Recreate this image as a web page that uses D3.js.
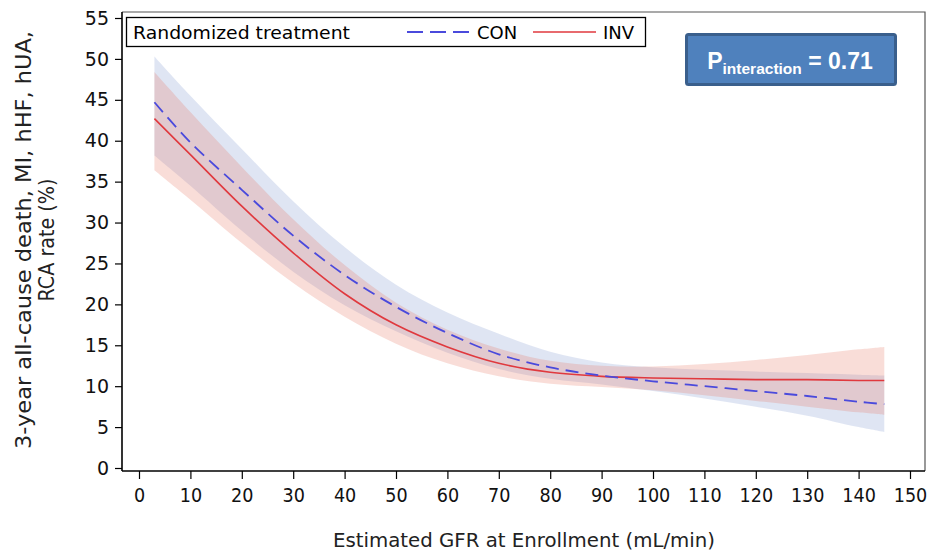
<!DOCTYPE html>
<html>
<head>
<meta charset="utf-8">
<script src="https://cdn.jsdelivr.net/npm/d3@7"></script>
<style>
  html, body { margin: 0; padding: 0; background: #ffffff; }
  svg { display: block; }
</style>
</head>
<body>
<svg id="chart" width="930" height="554"></svg>
<script>
// ---- data ----
const gfr      = [3, 10, 20, 30, 40, 50, 60, 70, 80, 90, 100, 110, 120, 130, 140, 145];
const conMean  = [44.7, 39.8, 34.0, 28.4, 23.6, 19.7, 16.5, 13.9, 12.3, 11.3, 10.6, 10.0, 9.4, 8.8, 8.1, 7.8];
const conUpper = [50.3, 45.5, 39.0, 32.6, 27.0, 22.4, 19.0, 16.4, 14.2, 12.9, 12.3, 12.0, 11.8, 11.6, 11.4, 11.3];
const conLower = [38.2, 34.5, 29.0, 24.0, 19.9, 16.7, 14.1, 12.1, 10.9, 10.2, 9.4, 8.5, 7.5, 6.4, 5.0, 4.4];
const invMean  = [42.7, 38.3, 32.0, 26.3, 21.3, 17.5, 14.8, 12.8, 11.7, 11.2, 11.0, 10.9, 10.8, 10.8, 10.7, 10.7];
const invUpper = [48.4, 43.5, 36.8, 30.4, 24.8, 20.2, 16.9, 14.6, 13.1, 12.5, 12.4, 12.7, 13.2, 13.8, 14.5, 14.8];
const invLower = [36.4, 32.8, 27.5, 22.6, 18.5, 15.2, 12.8, 11.2, 10.3, 9.9, 9.5, 8.9, 8.2, 7.5, 6.8, 6.5];
const xTicks   = d3.range(0, 151, 10);
const yTicks   = d3.range(0, 56, 5);
const seriesNames = ["CON", "INV"];
const legendTitle = "Randomized treatment";
const xTitle = "Estimated GFR at Enrollment (mL/min)";
const yTitleLines = ["3-year all-cause death, MI, hHF, hUA,", "RCA rate (%)"];
const pLabel = { main: "P", sub: "interaction", rest: " = 0.71" };

// ---- layout ----
const svg = d3.select("#chart");
const baseFont = "DejaVu Sans, sans-serif";
const frame = { left: 122, right: 925, top: 12, bottom: 471 };
const x = d3.scaleLinear().domain([0, 150]).range([139, 910]);
const y = d3.scaleLinear().domain([0, 55]).range([468, 18]);

const conColor = "#4a4adc";
const invColor = "#e0393e";

const pts = (arr) => gfr.map((g, i) => ({ x: g, v: arr[i] }));
const band = (lo, hi) => gfr.map((g, i) => ({ x: g, lo: lo[i], hi: hi[i] }));

const curve = d3.curveCatmullRom.alpha(0.5);
const area = d3.area().curve(curve)
  .x(d => x(d.x)).y0(d => y(d.lo)).y1(d => y(d.hi));
const line = d3.line().curve(curve)
  .x(d => x(d.x)).y(d => y(d.v));

// bands
svg.append("path").datum(band(conLower, conUpper))
  .attr("d", area).attr("fill", "rgb(110,135,200)").attr("fill-opacity", 0.22);
svg.append("path").datum(band(invLower, invUpper))
  .attr("d", area).attr("fill", "rgb(230,120,100)").attr("fill-opacity", 0.25);

// lines
svg.append("path").datum(pts(invMean)).attr("d", line)
  .attr("fill", "none").attr("stroke", invColor).attr("stroke-width", 1.6);
svg.append("path").datum(pts(conMean)).attr("d", line)
  .attr("fill", "none").attr("stroke", conColor).attr("stroke-width", 1.8)
  .attr("stroke-dasharray", "13,7");

// frame (top/right)
svg.append("path")
  .attr("d", `M${frame.left},${frame.top}H${frame.right}V${frame.bottom}`)
  .attr("fill", "none").attr("stroke", "#555").attr("stroke-width", 1.2);

// axes
const xAxis = svg.append("g").attr("transform", `translate(0,${frame.bottom})`)
  .call(d3.axisBottom(x).tickValues(xTicks).tickSize(8).tickSizeOuter(0).tickPadding(10));
xAxis.select(".domain").attr("d", `M${frame.left},0H${frame.right}`).attr("stroke", "#000").attr("stroke-width", 1.6);
xAxis.selectAll(".tick line").attr("stroke", "#000").attr("stroke-width", 1.2);
xAxis.selectAll(".tick text").style("font-size", "19px").style("font-family", baseFont).attr("fill", "#111")
  .each(function(d) {
    const n = String(d).length;
    d3.select(this).attr("textLength", n * 11.2).attr("lengthAdjust", "spacingAndGlyphs");
  });

const yAxis = svg.append("g").attr("transform", `translate(${frame.left},0)`)
  .call(d3.axisLeft(y).tickValues(yTicks).tickSize(7).tickSizeOuter(0).tickPadding(6));
yAxis.select(".domain").attr("d", `M0,${frame.top}V${frame.bottom}`).attr("stroke", "#000").attr("stroke-width", 1.6);
yAxis.selectAll(".tick line").attr("stroke", "#000").attr("stroke-width", 1.2);
yAxis.selectAll(".tick text").style("font-size", "19px").style("font-family", baseFont).attr("fill", "#111");

// axis titles
svg.append("text").attr("x", 524).attr("y", 547).attr("text-anchor", "middle")
  .style("font-size", "19.5px").style("font-family", baseFont)
  .attr("textLength", 382).attr("lengthAdjust", "spacingAndGlyphs")
  .attr("fill", "#222").text(xTitle);

const yTitleLen = [418, 123];
yTitleLines.forEach((t, i) => {
  svg.append("text")
    .attr("transform", `translate(${31 + i * 23},${240}) rotate(-90)`)
    .attr("text-anchor", "middle").style("font-size", "20.5px").style("font-family", baseFont)
    .attr("textLength", yTitleLen[i]).attr("lengthAdjust", "spacingAndGlyphs")
    .attr("fill", "#222").text(t);
});

// legend
const lg = svg.append("g").style("font-family", baseFont).style("font-size", "18px");
lg.append("rect").attr("x", 126.5).attr("y", 17.5).attr("width", 519).attr("height", 29)
  .attr("fill", "#fff").attr("stroke", "#000").attr("stroke-width", 1.3);
lg.append("text").attr("x", 133).attr("y", 38.5)
  .attr("textLength", 217).attr("lengthAdjust", "spacingAndGlyphs").text(legendTitle);
lg.append("line").attr("x1", 407).attr("x2", 469).attr("y1", 32).attr("y2", 32)
  .attr("stroke", conColor).attr("stroke-width", 1.8).attr("stroke-dasharray", "16,7");
lg.append("text").attr("x", 477).attr("y", 38.5).text(seriesNames[0]);
lg.append("line").attr("x1", 533).attr("x2", 596).attr("y1", 32).attr("y2", 32)
  .attr("stroke", invColor).attr("stroke-width", 1.6);
lg.append("text").attr("x", 603).attr("y", 38.5).text(seriesNames[1]);

// P interaction box
const pb = svg.append("g");
pb.append("rect").attr("x", 686.5).attr("y", 34.5).attr("width", 209).attr("height", 50).attr("rx", 2)
  .attr("fill", "#4f81bd").attr("stroke", "#3a5f8c").attr("stroke-width", 3);
const pt = pb.append("text").attr("x", 790).attr("y", 69).attr("text-anchor", "middle")
  .attr("fill", "#fff").style("font-family", "Liberation Sans, Arial, sans-serif").style("font-weight", "bold");
pt.append("tspan").style("font-size", "23px").text(pLabel.main);
pt.append("tspan").style("font-size", "15.5px").attr("dy", 5).text(pLabel.sub);
pt.append("tspan").style("font-size", "23px").attr("dy", -5).text(pLabel.rest);
</script>
</body>
</html>
